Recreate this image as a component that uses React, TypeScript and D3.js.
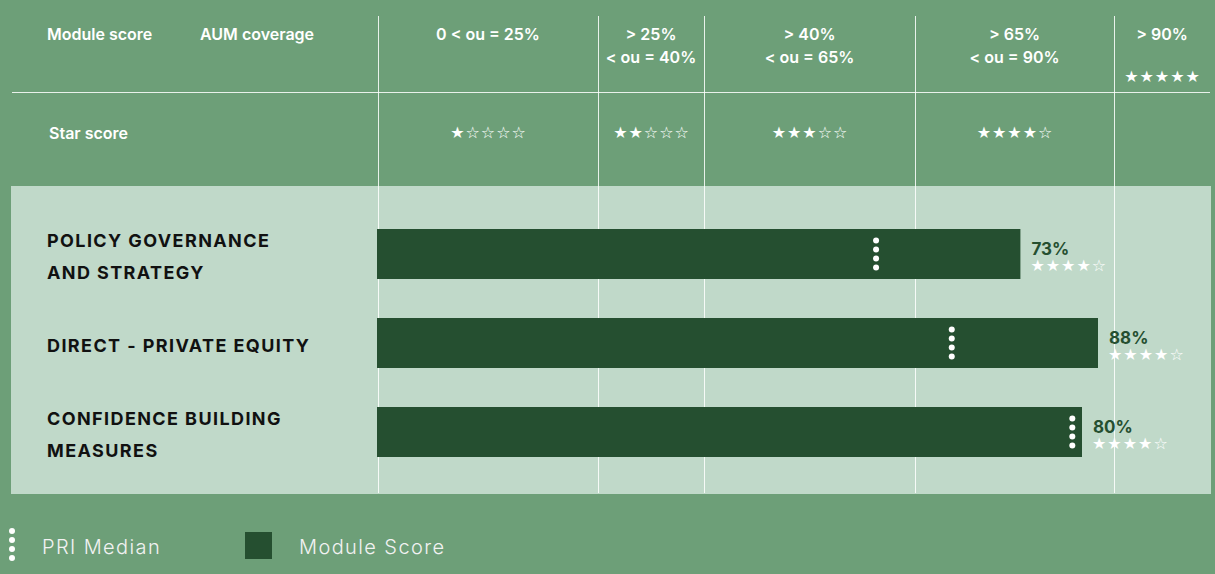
import React from "react";
import * as d3 from "d3";

// ---------- data ----------
const modules = ["POLICY GOVERNANCE|AND STRATEGY", "DIRECT - PRIVATE EQUITY", "CONFIDENCE BUILDING|MEASURES"];
const moduleScores = [73, 88, 80];
const moduleStars = [4, 4, 4];
const priMedians = [56.6, 65.2, 78.9];

const bandLabels = [["0 < ou = 25%"], ["> 25%", "< ou = 40%"], ["> 40%", "< ou = 65%"], ["> 65%", "< ou = 90%"], ["> 90%"]];
const bandStars = [1, 2, 3, 4, 5];
const headerLabels = ["Module score", "AUM coverage"];
const starRowLabel = "Star score";
const legendLabels = ["PRI Median", "Module Score"];

// ---------- layout / style ----------
const W = 1215;
const H = 574;
const BG = "#6d9f78";
const PANEL = "#c0d9c9";
const BAR = "#254f30";
const LINE = "rgba(255,255,255,0.85)";
const FONT = "Inter, 'Open Sans', sans-serif";
const STAR_FONT = "'DejaVu Sans', sans-serif";
const colEdges = [378, 598, 704, 915, 1114, 1210];
const panel = { x: 11, y: 186, w: 1200, h: 308 };
const labelSpace = 113;

const starText = (n: number) => "★".repeat(n) + "☆".repeat(5 - n);

export default function App() {
  const x = d3.scaleLinear().domain([0, 100]).range([378, 1258]);
  const maxEnd = panel.x + panel.w - labelSpace;
  const y = d3
    .scaleBand<number>()
    .domain(d3.range(modules.length))
    .range([202.3, 483.7])
    .paddingInner(0.4382)
    .paddingOuter(0.3);
  const bh = y.bandwidth();

  const dots = (cx: number, cy: number, key: string) =>
    [-13.5, -4.5, 4.5, 13.5].map((o, i) => <circle key={key + i} cx={cx} cy={cy + o} r={3} fill="#fff" />);

  return (
    <svg width={W} height={H} style={{ position: "absolute", left: 0, top: 0, display: "block" }} fontFamily={FONT}>
      <rect x={0} y={0} width={W} height={H} fill={BG} />
      <rect x={panel.x} y={panel.y} width={panel.w} height={panel.h} fill={PANEL} />

      {/* grid lines */}
      {colEdges.slice(0, 5).map((cx, i) => (
        <line key={"v" + i} x1={cx + 0.5} x2={cx + 0.5} y1={16} y2={493} stroke={LINE} strokeWidth={1} />
      ))}
      <line x1={12} x2={1210} y1={92.5} y2={92.5} stroke={LINE} strokeWidth={1} />

      {/* header */}
      <text x={47} y={40} fill="#fff" fontSize={16} fontWeight={600}>{headerLabels[0]}</text>
      <text x={200} y={40} fill="#fff" fontSize={16} fontWeight={600}>{headerLabels[1]}</text>
      <text x={49} y={139} fill="#fff" fontSize={16} fontWeight={600}>{starRowLabel}</text>
      {bandLabels.map((lines, i) => {
        const cx = (colEdges[i] + colEdges[i + 1]) / 2;
        const n = bandStars[i];
        return (
          <g key={"band" + i}>
            {lines.map((l, j) => (
              <text key={j} x={cx} y={40 + j * 23} textAnchor="middle" fill="#fff" fontSize={16} fontWeight={600}>{l}</text>
            ))}
            <text x={cx + 0.5} y={n === 5 ? 82 : 138} textAnchor="middle" fill="#fff" fontSize={16} letterSpacing={1} fontFamily={STAR_FONT}>
              {starText(n)}
            </text>
          </g>
        );
      })}

      {/* bars */}
      {modules.map((m, i) => {
        const yy = y(i)!;
        const cy = yy + bh / 2;
        const end = Math.min(x(moduleScores[i]), maxEnd);
        const lines = m.split("|");
        const ly = lines.length === 1 ? cy + 9 : cy - 7;
        return (
          <g key={"row" + i}>
            {lines.map((l, j) => (
              <text key={j} x={47} y={ly + j * 32} fill="#111" fontSize={18} fontWeight={700} letterSpacing={1.4}>{l}</text>
            ))}
            <rect x={x(0) - 1} y={yy} width={end - x(0) + 1} height={bh} fill={BAR} />
            {dots(Math.min(x(priMedians[i]), end - 6), cy, "d" + i)}
            <text x={end + 11} y={cy + 1} fill={BAR} fontSize={17} fontWeight={700}>{moduleScores[i]}%</text>
            <text x={end + 10} y={cy + 17} fill="#fff" fontSize={16} letterSpacing={1} fontFamily={STAR_FONT}>{starText(moduleStars[i])}</text>
          </g>
        );
      })}

      {/* legend */}
      {dots(12, 544.5, "leg")}
      <text x={42} y={554} fill="#f2f2f2" fontSize={20} fontWeight={300} letterSpacing={1.4}>{legendLabels[0]}</text>
      <rect x={245} y={532} width={27} height={27} fill={BAR} />
      <text x={299} y={554} fill="#f2f2f2" fontSize={20} fontWeight={300} letterSpacing={1.4}>{legendLabels[1]}</text>
    </svg>
  );
}
